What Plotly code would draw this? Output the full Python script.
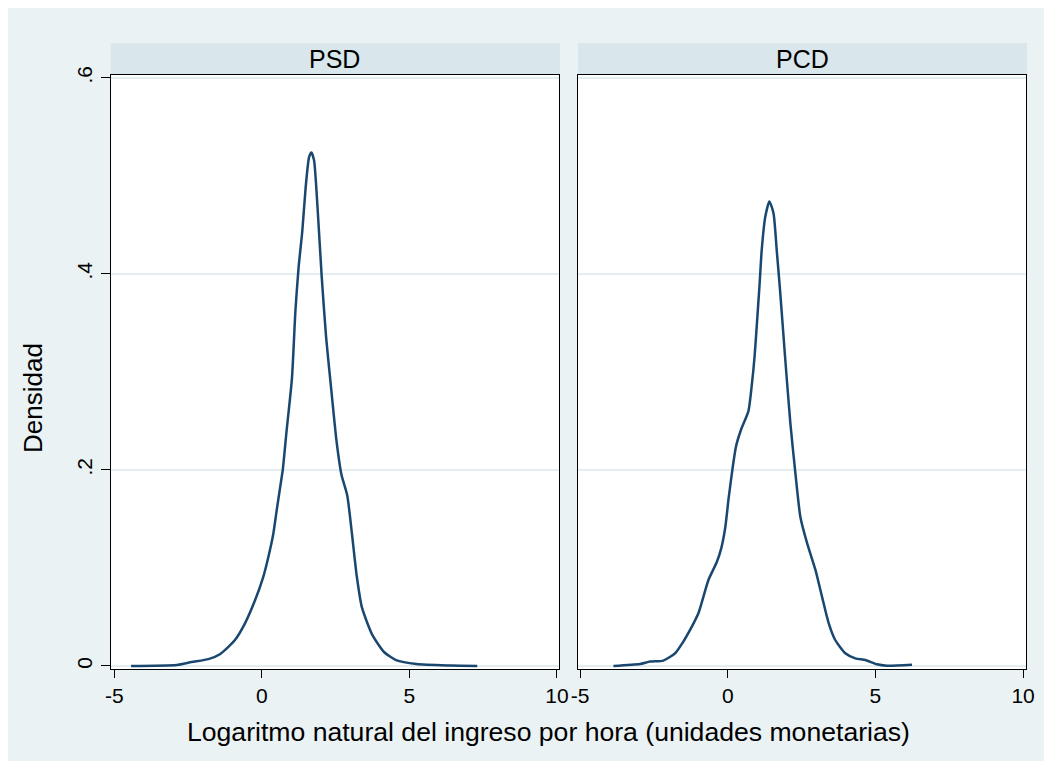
import plotly.graph_objects as go

# Page is 1052x769; the default HTML body margin is 8px, so the figure is 1036x753
W, H = 1036, 753
OFF = 8

# Data (kernel density estimates)
panels = ["PSD", "PCD"]
psd_x = [-4.43, -2.885, -2.38, -1.81, -1.42, -0.91, -0.57, -0.23, 0.05, 0.22, 0.39, 0.505, 0.62, 0.71, 0.84,
         1.02, 1.14, 1.25, 1.37, 1.485, 1.60, 1.68, 1.77, 1.89, 2.03, 2.18, 2.35, 2.53, 2.70, 2.895, 3.05,
         3.22, 3.39, 3.74, 4.15, 4.55, 5.24, 6.4, 7.3]
psd_y = [0, 0.001, 0.004, 0.007, 0.012, 0.0265, 0.0435, 0.067, 0.091, 0.111, 0.135, 0.159, 0.182, 0.2, 0.24,
         0.293, 0.363, 0.408, 0.443, 0.488, 0.519, 0.524, 0.516, 0.467, 0.397, 0.335, 0.283, 0.230, 0.195, 0.174, 0.136,
         0.091, 0.060, 0.032, 0.014, 0.006, 0.002, 0.0005, 0]
pcd_x = [-3.87, -2.97, -2.63, -2.18, -1.78, -1.50, -1.27, -0.99, -0.82, -0.65, -0.37, -0.22, -0.085, 0.03, 0.17,
         0.28, 0.45, 0.70, 0.82, 0.91, 0.99, 1.08, 1.15, 1.27, 1.41, 1.55, 1.66, 1.77, 1.94, 2.12, 2.29, 2.46,
         2.69, 2.97, 3.19, 3.42, 3.64, 3.98, 4.32, 4.66, 5.05, 5.39, 6.24]
pcd_y = [0, 0.002, 0.0045, 0.0055, 0.013, 0.025, 0.037, 0.054, 0.071, 0.088, 0.106, 0.12, 0.141, 0.171, 0.203,
         0.224, 0.241, 0.26, 0.288, 0.316, 0.35, 0.39, 0.424, 0.458, 0.474, 0.462, 0.424, 0.384, 0.316, 0.248, 0.197, 0.152,
         0.125, 0.098, 0.071, 0.0435, 0.0265, 0.013, 0.0078, 0.006, 0.0017, 0.0003, 0.0013]

x_ticks = [-5, 0, 5, 10]
x_ticktext = ["-5", "0", "5", "10"]
y_ticks = [0, 0.2, 0.4, 0.6]
y_ticktext = ["0", ".2", ".4", ".6"]
x_title = "Logaritmo natural del ingreso por hora (unidades monetarias)"
y_title = "Densidad"

LINE = "#1a476f"
BG = "#eaf2f3"
STRIP = "#d9e6eb"
GRID = "#e4edef"
FONT = "Liberation Sans, Arial, sans-serif"


def px(x):
    return (x - OFF) / W


def py(y):
    return 1 - (y - OFF) / H


fig = go.Figure()
fig.add_trace(go.Scatter(x=psd_x, y=psd_y, mode="lines", line=dict(color=LINE, width=2.5, shape="spline", smoothing=0.6),
                         xaxis="x", yaxis="y", showlegend=False, hoverinfo="skip"))
fig.add_trace(go.Scatter(x=pcd_x, y=pcd_y, mode="lines", line=dict(color=LINE, width=2.5, shape="spline", smoothing=0.6),
                         xaxis="x2", yaxis="y2", showlegend=False, hoverinfo="skip"))

top, bottom = 75, 669
p1 = (110.7, 559.0)
p2 = (578.0, 1026.0)
ydom = [py(bottom), py(top)]

common_x = dict(tickvals=x_ticks, ticktext=x_ticktext, ticks="outside", ticklen=8, tickwidth=1.3, tickcolor="black",
                showline=True, linecolor="black", linewidth=1.3, mirror=True, showgrid=False, zeroline=False,
                automargin=False, tickfont=dict(family=FONT, size=21, color="black"))
common_y = dict(tickvals=y_ticks, showline=True, linecolor="black", linewidth=1.3, mirror=True,
                showgrid=True, gridcolor=GRID, gridwidth=2, zeroline=False, range=[-0.0031, 0.603], automargin=False)

fig.update_layout(
    width=W, height=H,
    autosize=False,
    showlegend=False,
    margin=dict(l=0, r=0, t=0, b=0, pad=0, autoexpand=False),
    paper_bgcolor=BG,
    plot_bgcolor="white",
    font=dict(family=FONT, color="black"),
    xaxis=dict(domain=[px(p1[0]), px(p1[1])], range=[-5.12, 10.07], anchor="y", **common_x),
    xaxis2=dict(domain=[px(p2[0]), px(p2[1])], range=[-5.07, 10.1], anchor="y2", **common_x),
    yaxis=dict(domain=ydom, anchor="x", ticktext=y_ticktext, ticks="outside", ticklen=9, tickwidth=1.3,
               tickcolor="black", tickangle=-90, tickfont=dict(family=FONT, size=21, color="black"), **common_y),
    yaxis2=dict(domain=ydom, anchor="x2", showticklabels=False, ticks="", **common_y),
)

shapes = []
for (a, b) in (p1, p2):
    shapes.append(dict(type="rect", xref="paper", yref="paper", x0=px(a), x1=px(b + 1), y0=py(top), y1=py(43),
                       fillcolor=STRIP, line=dict(width=0), layer="below"))
fig.update_layout(shapes=shapes)

annotations = []
for name, (a, b) in zip(panels, (p1, p2)):
    annotations.append(dict(text=name, x=px((a + b) / 2), y=py(59), xref="paper", yref="paper", showarrow=False,
                            xanchor="center", yanchor="middle", font=dict(family=FONT, size=25, color="black")))
annotations.append(dict(text=x_title, x=px(548), y=py(732), xref="paper", yref="paper", showarrow=False,
                        xanchor="center", yanchor="middle", font=dict(family=FONT, size=26.6, color="black")))
annotations.append(dict(text=y_title, x=px(33), y=py(398), xref="paper", yref="paper", showarrow=False, textangle=-90,
                        xanchor="center", yanchor="middle", font=dict(family=FONT, size=26, color="black")))
fig.update_layout(annotations=annotations)

fig.write_html("out.html", config={"displayModeBar": False})
